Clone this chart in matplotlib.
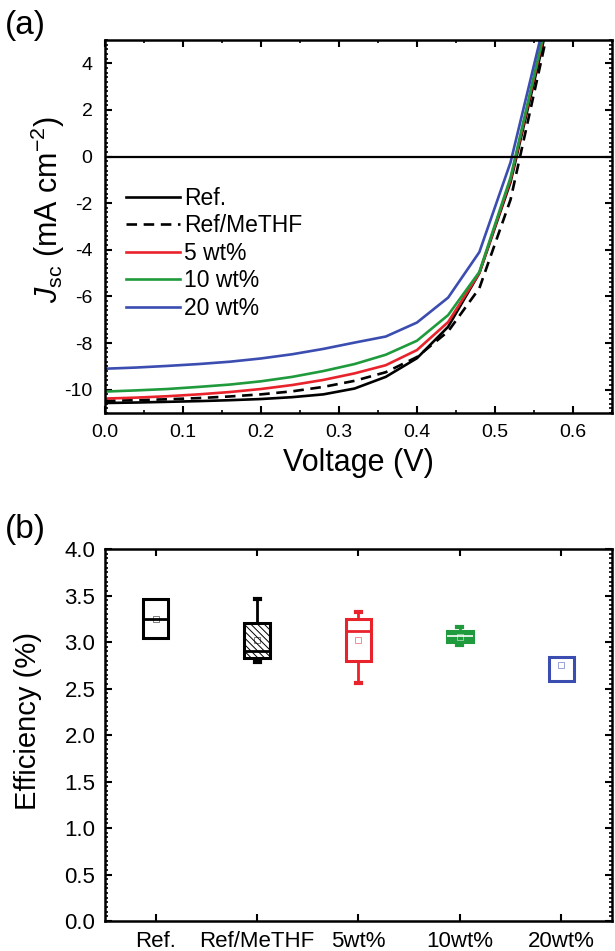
import numpy as np
import matplotlib
matplotlib.use("Agg")
import matplotlib.pyplot as plt
from matplotlib.ticker import MultipleLocator

plt.rcParams['font.family'] = ['Liberation Sans', 'DejaVu Sans']
plt.rcParams['mathtext.fontset'] = 'custom'
plt.rcParams['mathtext.rm'] = 'Liberation Sans'
plt.rcParams['mathtext.it'] = 'Liberation Sans:italic'
plt.rcParams['hatch.linewidth'] = 0.7
plt.rcParams['axes.unicode_minus'] = False

# J-V curves
voltage = [0.00, 0.04, 0.08, 0.12, 0.16, 0.20, 0.24, 0.28, 0.32, 0.36, 0.40, 0.44, 0.48, 0.52, 0.56, 0.60]
j_ref = [-10.57, -10.55, -10.52, -10.49, -10.45, -10.40, -10.32, -10.20, -9.95, -9.45, -8.65, -7.30, -5.00, -1.10, 4.6, 11.0]
j_methf = [-10.48, -10.45, -10.41, -10.36, -10.29, -10.20, -10.07, -9.88, -9.62, -9.25, -8.60, -7.50, -5.65, -1.85, 4.2, 10.5]
j_5 = [-10.38, -10.34, -10.28, -10.20, -10.10, -9.97, -9.80, -9.58, -9.30, -8.95, -8.30, -7.10, -5.00, -1.00, 4.8, 11.0]
j_10 = [-10.08, -10.03, -9.97, -9.88, -9.78, -9.64, -9.45, -9.20, -8.90, -8.50, -7.90, -6.80, -4.95, -0.90, 4.9, 11.0]
j_20 = [-9.10, -9.05, -8.98, -8.90, -8.80, -8.66, -8.48, -8.25, -7.98, -7.72, -7.12, -6.05, -4.10, -0.25, 5.3, 11.0]

curve_labels = ['Ref.', 'Ref/MeTHF', '5 wt%', '10 wt%', '20 wt%']
curve_colors = ['black', 'black', '#e8232b', '#1f9a3c', '#3b4db0']
curve_styles = ['-', (0, (4, 2.5)), '-', '-', '-']

# efficiency box stats, panel (b)
groups = ['Ref.', 'Ref/MeTHF', '5wt%', '10wt%', '20wt%']
q1 = [3.04, 2.83, 2.80, 3.00, 2.58]
q3 = [3.46, 3.20, 3.25, 3.12, 2.84]
med = [3.25, 2.905, 3.12, 3.07, 2.58]
whislo = [3.04, 2.78, 2.56, 2.97, 2.58]
whishi = [3.46, 3.46, 3.32, 3.16, 2.84]
means = [3.25, 3.02, 3.02, 3.05, 2.75]
box_colors = ['black', 'black', '#e8232b', '#1f9a3c', '#3b4db0']

fig = plt.figure(figsize=(6.15, 9.51), dpi=100)
ax1 = fig.add_axes([0.1707, 0.5657, 0.8243, 0.3923])
ax2 = fig.add_axes([0.1707, 0.0315, 0.8243, 0.3912])

for j, lab, c, ls in zip([j_ref, j_methf, j_5, j_10, j_20], curve_labels, curve_colors, curve_styles):
    ax1.plot(voltage, j, color=c, ls=ls, lw=1.9, label=lab)
ax1.axhline(0, color='black', lw=1.6)
ax1.set_xlim(0, 0.65)
ax1.set_ylim(-11, 5)
ax1.xaxis.set_major_locator(MultipleLocator(0.1))
ax1.xaxis.set_minor_locator(MultipleLocator(0.05))
ax1.yaxis.set_major_locator(MultipleLocator(2))
ax1.yaxis.set_minor_locator(MultipleLocator(0.2))
ax1.xaxis.set_major_formatter(matplotlib.ticker.FormatStrFormatter('%.1f'))
ax1.tick_params(which='both', direction='in', top=True, right=True, labelsize=14)
ax1.tick_params(axis='x', which='major', pad=8)
ax1.tick_params(axis='y', which='major', pad=9)
ax1.set_xlabel('Voltage (V)', fontsize=22)
ax1.set_ylabel(r'$J_{\rm sc}$ (mA cm$^{-2}$)', fontsize=22)
ax1.xaxis.set_label_coords(0.5, -0.095)
ax1.yaxis.set_label_coords(-0.075, 0.545)
leg = ax1.legend(loc='center left', bbox_to_anchor=(0.041, 0.428), frameon=False,
                 fontsize=16.5, handlelength=2.35, handletextpad=0.2,
                 labelspacing=0.2, borderpad=0, borderaxespad=0)

stats = []
for i in range(len(groups)):
    stats.append(dict(label=groups[i], q1=q1[i], q3=q3[i], med=med[i], mean=means[i],
                      whislo=whislo[i], whishi=whishi[i], fliers=[]))
pos = np.arange(1, len(groups) + 1)
bp = ax2.bxp(stats, positions=pos, widths=0.25, showmeans=True, patch_artist=True,
             showcaps=True)
for i, c in enumerate(box_colors):
    box = bp['boxes'][i]
    box.set_edgecolor(c)
    box.set_linewidth(2.2)
    box.set_facecolor('white')
    bp['medians'][i].set_color(c)
    bp['medians'][i].set_linewidth(2.0)
    for k, (w, q) in zip((2 * i, 2 * i + 1), ((whislo[i], q1[i]), (whishi[i], q3[i]))):
        bp['whiskers'][k].set_color(c)
        bp['whiskers'][k].set_linewidth(2.0)
        bp['caps'][k].set_color(c)
        bp['caps'][k].set_linewidth(3.0)
        bp['caps'][k].set_xdata([pos[i] - 0.025, pos[i] + 0.025])
        if w == q:
            bp['caps'][k].set_visible(False)
            bp['whiskers'][k].set_visible(False)
    m = bp['means'][i]
    m.set_marker('s')
    m.set_markersize(4)
    m.set_markerfacecolor('none')
    m.set_markeredgecolor(c)
    m.set_markeredgewidth(0.6)
    m.set_alpha(0.6)
bp['boxes'][1].set_hatch('\\\\\\\\\\')
bp['boxes'][3].set_facecolor('#1f9a3c')
bp['medians'][3].set_color('white')
bp['medians'][3].set_linewidth(1.2)
bp['means'][3].set_markeredgecolor('white')

ax2.set_xlim(0.5, 5.5)
ax2.set_ylim(0, 4.0)
ax2.yaxis.set_major_locator(MultipleLocator(0.5))
ax2.yaxis.set_minor_locator(MultipleLocator(0.05))
ax2.yaxis.set_major_formatter(matplotlib.ticker.FormatStrFormatter('%.1f'))
ax2.set_xticks(pos)
ax2.set_xticklabels(groups)
ax2.tick_params(which='both', direction='in', top=True, right=True, labelsize=16)
ax2.tick_params(axis='x', which='major', pad=7)
ax2.tick_params(axis='y', which='major', pad=7)
ax2.set_ylabel('Efficiency (%)', fontsize=21)
ax2.yaxis.set_label_coords(-0.124, 0.537)

for ax in (ax1, ax2):
    for s in ax.spines.values():
        s.set_linewidth(1.8)
    ax.tick_params(which='major', length=5, width=1.5)
    ax.tick_params(which='minor', length=2.5, width=1.2)

fig.text(0.008, 0.973, '(a)', fontsize=24, va='center', ha='left')
fig.text(0.008, 0.443, '(b)', fontsize=24, va='center', ha='left')

fig.savefig('out.png', dpi=100)
